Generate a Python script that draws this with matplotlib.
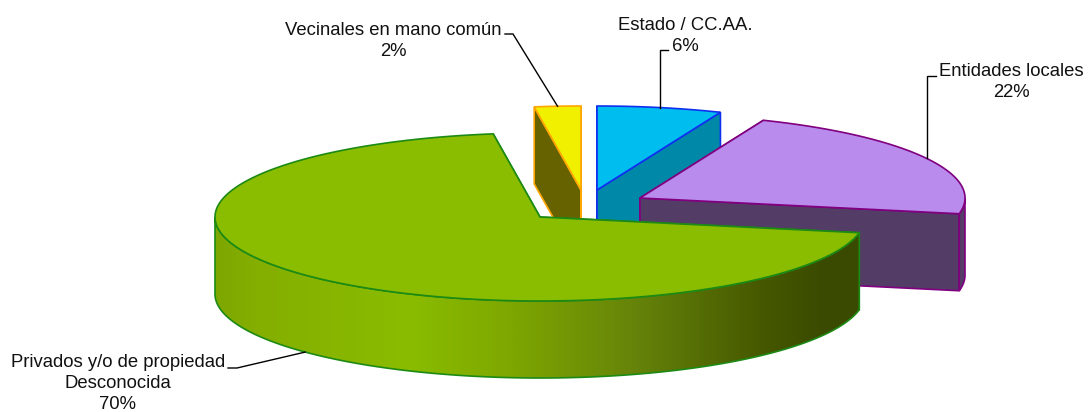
import numpy as np
import matplotlib
matplotlib.use('Agg')
import matplotlib.pyplot as plt
from matplotlib.colors import LinearSegmentedColormap
from matplotlib.patches import Polygon

plt.rcParams['font.family'] = ['Liberation Sans', 'DejaVu Sans']

names = ['Estado / CC.AA.', 'Entidades locales', 'Privados y/o de propiedad\nDesconocida', 'Vecinales en mano común']
shares = [6.2, 21.8, 69.7, 2.3]
pct_labels = ['6%', '22%', '70%', '2%']

top_colors = ['#00bdf0', '#b98bec', '#8abc00', '#f0f000']
wall_colors = ['#0088a8', '#533c66', None, '#666200']
edge_colors = ['#1030f0', '#800080', '#1c8a14', '#ffa500']
# exploded centre of each slice, in pixels
centers = [(597, 190), (640, 198), (540, 217), (581, 190)]
draw_order = [3, 0, 1, 2]

RX, RY, DEPTH = 325, 84, 77

grad_stops = [(0.0, '#7ea800'), (0.06, '#84ae00'), (0.3, '#8abc00'), (0.45, '#7fa800'),
              (0.65, '#66840a'), (0.85, '#465800'), (0.95, '#3a4a00'), (1.0, '#3a4a00')]
green_cmap = LinearSegmentedColormap.from_list('green_wall', grad_stops)

# label x, first line y, elbow start, elbow end
label_pos = {
    0: (685, 26, (668, 50), (660, 50)),
    1: (1011, 72, (936, 76), (927, 76)),
    2: (118, 363, (228, 368), (237, 368)),
    3: (393, 31, (505, 34), (513, 34)),
}


def ell(c, deg):
    a = np.radians(deg)
    return np.column_stack([c[0] + RX * np.sin(a), c[1] - RY * np.cos(a)])


def extrude(pts):
    return np.column_stack([pts[:, 0], pts[:, 1] + DEPTH])


fig = plt.figure(figsize=(10.88, 4.12), dpi=100)
ax = fig.add_axes([0, 0, 1, 1])
ax.set_axis_off()

ends = np.cumsum(shares) / np.sum(shares) * 360
starts = np.concatenate([[0], ends[:-1]])

for i in draw_order:
    c = centers[i]
    a0, a1 = starts[i], ends[i]
    arc = ell(c, np.linspace(a0, a1, 200))
    ec = edge_colors[i]
    wall_c = wall_colors[i]

    # cut faces
    for tip in (arc[0], arc[-1]):
        face = np.array([c, tip, tip + [0, DEPTH], (c[0], c[1] + DEPTH)])
        ax.add_patch(Polygon(face, closed=True, fc=wall_c if wall_c else '#3a4a00', ec=ec, lw=1.2))

    # outer wall, only the part facing the viewer
    lo, hi = max(a0, 90), min(a1, 270)
    if lo < hi:
        front = ell(c, np.linspace(lo, hi, 200))
        wall = np.vstack([front, extrude(front)[::-1]])
        if wall_c:
            ax.add_patch(Polygon(wall, closed=True, fc=wall_c, ec=ec, lw=1.2))
        else:
            poly = Polygon(wall, closed=True, fc='none', ec=ec, lw=1.2, zorder=3)
            ax.add_patch(poly)
            im = ax.imshow(np.linspace(0, 1, 400)[None, :], cmap=green_cmap, aspect='auto',
                           extent=(wall[:, 0].min(), wall[:, 0].max(), 412, 0), zorder=2)
            im.set_clip_path(poly)

    # top face
    top = np.vstack([[c], arc])
    ax.add_patch(Polygon(top, closed=True, fc=top_colors[i], ec=ec, lw=1.2, zorder=4))

for i, name in enumerate(names):
    mid = (starts[i] + ends[i]) / 2
    anchor = ell(centers[i], mid)[0]
    if 90 < mid < 270:
        anchor = anchor + [0, DEPTH]
    lx, ly, p0, p1 = label_pos[i]
    if i in (0, 1):
        p2 = (p1[0], anchor[1])
    else:
        p2 = tuple(anchor)
    ax.plot([p0[0], p1[0], p2[0]], [p0[1], p1[1], p2[1]], color='black', lw=1.0, zorder=5,
            solid_joinstyle='miter')
    ax.text(lx, ly - 9, name + '\n' + pct_labels[i], ha='center', va='top', fontsize=13.3,
            color='#111111', linespacing=1.3, zorder=6)

ax.set_xlim(0, 1088)
ax.set_ylim(412, 0)

fig.savefig('out.png', dpi=100, facecolor='white')
